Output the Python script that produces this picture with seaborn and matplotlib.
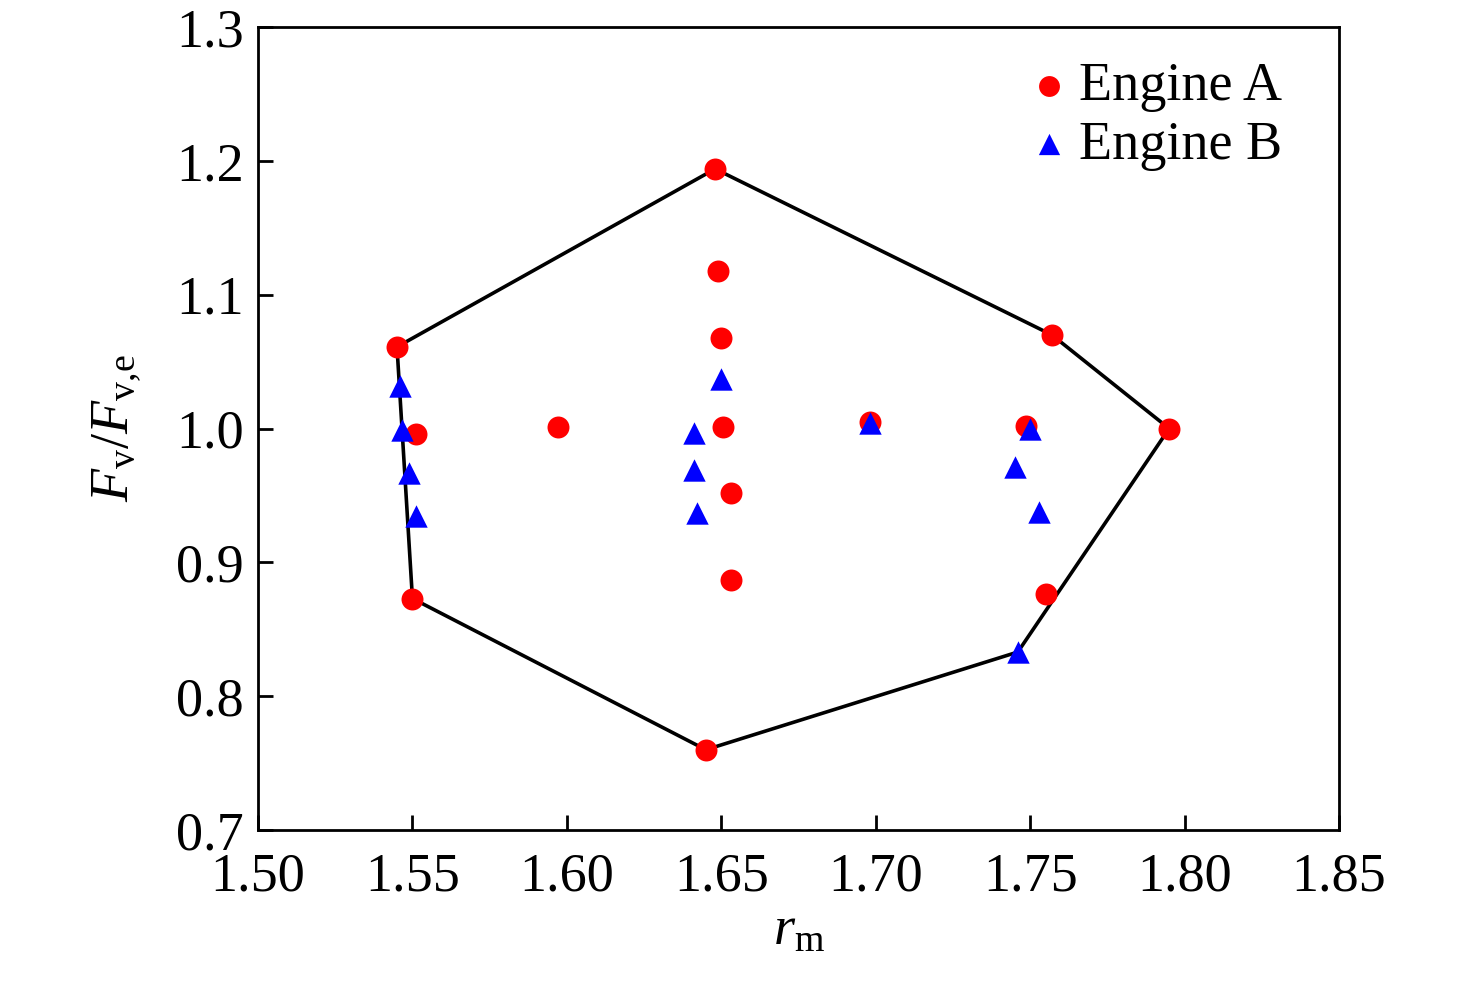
import matplotlib
matplotlib.use("Agg")
import matplotlib.pyplot as plt
import seaborn as sns
import pandas as pd

# Engine A (red circles)
a_rm = [1.545, 1.551, 1.550, 1.597, 1.648, 1.649, 1.650, 1.6505, 1.653, 1.653, 1.645, 1.698, 1.7485, 1.757, 1.755, 1.795]
a_fv = [1.061, 0.996, 0.873, 1.001, 1.194, 1.118, 1.068, 1.001, 0.952, 0.887, 0.760, 1.005, 1.002, 1.070, 0.876, 1.000]

# Engine B (blue triangles)
b_rm = [1.546, 1.5466, 1.549, 1.551, 1.641, 1.641, 1.642, 1.650, 1.698, 1.750, 1.745, 1.753, 1.746]
b_fv = [1.032, 0.999, 0.967, 0.935, 0.997, 0.969, 0.937, 1.037, 1.004, 1.000, 0.971, 0.938, 0.833]

# Envelope (hull) through outer points
hull_rm = [1.545, 1.648, 1.757, 1.795, 1.746, 1.645, 1.550, 1.545]
hull_fv = [1.061, 1.194, 1.070, 1.000, 0.833, 0.760, 0.873, 1.061]

x_ticks = [1.50, 1.55, 1.60, 1.65, 1.70, 1.75, 1.80, 1.85]
y_ticks = [0.7, 0.8, 0.9, 1.0, 1.1, 1.2, 1.3]

sns.set_theme(style="ticks")
plt.rcParams["font.family"] = ["Liberation Serif", "DejaVu Serif"]
plt.rcParams["mathtext.fontset"] = "custom"
plt.rcParams["mathtext.rm"] = "Liberation Serif"
plt.rcParams["mathtext.it"] = "Liberation Serif:italic"
for k in ["text.color", "axes.labelcolor", "xtick.color", "ytick.color", "axes.edgecolor"]:
    plt.rcParams[k] = "black"

fig = plt.figure(figsize=(14.76, 9.83), dpi=100, facecolor="white")
ax = fig.add_axes([0.1748, 0.1556, 0.7324, 0.8169])
ax.set_facecolor("white")

hull_df = pd.DataFrame({"rm": hull_rm, "fv": hull_fv})
sns.lineplot(data=hull_df, x="rm", y="fv", sort=False, estimator=None, color="black",
             linewidth=2.6, ax=ax, zorder=1)

df_a = pd.DataFrame({"rm": a_rm, "fv": a_fv})
df_b = pd.DataFrame({"rm": b_rm, "fv": b_fv})
sns.scatterplot(data=df_a, x="rm", y="fv", marker="o", color="#ff0000", s=250, linewidth=0,
                ax=ax, label="Engine A", zorder=3)
sns.scatterplot(data=df_b, x="rm", y="fv", marker="^", color="#0000ff", s=260, linewidth=0,
                ax=ax, label="Engine B", zorder=4)

ax.set_xlim(1.50, 1.85)
ax.set_ylim(0.7, 1.3)
ax.set_xticks(x_ticks)
ax.set_xticklabels([f"{v:.2f}" for v in x_ticks])
ax.set_yticks(y_ticks)
ax.set_yticklabels([f"{v:.1f}" for v in y_ticks])
ax.tick_params(axis="both", direction="in", length=11, width=2, labelsize=39, pad=10,
               colors="black", labelcolor="black")
ax.tick_params(axis="x", pad=16)
for sp in ax.spines.values():
    sp.set_visible(True)
    sp.set_linewidth(2)
    sp.set_color("black")

ax.set_xlabel(r"$\mathit{r}_{\mathrm{m}}$", fontsize=39, labelpad=2, color="black")
ax.set_ylabel(r"$\mathit{F}_{\mathrm{v}}/\mathit{F}_{\mathrm{v{,}e}}$", fontsize=39,
              labelpad=24, color="black")

leg = ax.legend(loc="upper right", frameon=False, fontsize=39, handletextpad=-0.25,
                borderaxespad=0.0, labelspacing=0.15, markerscale=0.95, handlelength=1.6,
                bbox_to_anchor=(0.967, 0.984))
for t in leg.get_texts():
    t.set_color("black")

fig.savefig("out.png", dpi=100, facecolor="white")
